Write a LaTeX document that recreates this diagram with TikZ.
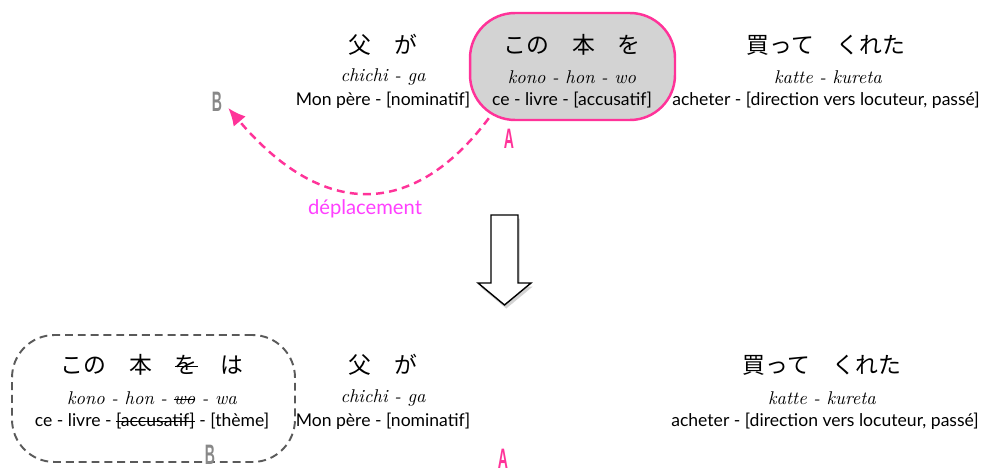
\documentclass[tikz,border=0pt]{standalone}
\usepackage{fontspec}
\usepackage{tikz}
\usepackage{xcolor}
\usetikzlibrary{shapes,arrows,arrows.meta,positioning,calc,shadows}
\newfontfamily\jpfont{Noto Sans CJK JP}
\newfontfamily\glossfont{Lato}
\newfontfamily\tagfont{Liberation Sans}
\definecolor{movepink}{RGB}{255,51,153}
\definecolor{boxgray}{RGB}{211,211,211}
\definecolor{labelmagenta}{RGB}{255,64,255}
\definecolor{tagcolor}{RGB}{136,136,136}
\definecolor{topiccolor}{RGB}{90,90,90}
\newsavebox\strkbox
\newcommand{\strk}[1]{\sbox\strkbox{#1}\rlap{\rule[0.5ex]{\wd\strkbox}{0.6pt}}\usebox\strkbox}

\begin{document}
\begin{tikzpicture}[
    x=0.02cm, y=-0.02cm,
    jp/.style={font=\jpfont\fontsize{13}{15}\selectfont, inner sep=0pt},
    roma/.style={font=\itshape\fontsize{10.5}{12}\selectfont, inner sep=0pt},
    gloss/.style={font=\glossfont\fontsize{10}{12}\selectfont, inner sep=0pt},
    movedbox/.style={rectangle, draw=movepink, fill=boxgray, line width=1.4pt, rounded corners=0.9cm, minimum width=4.1cm, minimum height=2.14cm},
    topicbox/.style={rectangle, draw=topiccolor, line width=1.1pt, dash pattern=on 4.5pt off 2.8pt, rounded corners=0.85cm, minimum width=5.66cm, minimum height=2.54cm},
    tagA/.style={font=\tagfont\bfseries\fontsize{16}{18}\selectfont, text=movepink, xscale=0.5, inner sep=0pt},
    tagB/.style={font=\tagfont\bfseries\fontsize{16}{18}\selectfont, text=tagcolor, xscale=0.5, inner sep=0pt},
    movearrow/.style={draw=movepink, line width=1.4pt, dash pattern=on 4.5pt off 3pt, -{Latex[length=10pt,width=9pt]}},
    movelabel/.style={font=\glossfont\fontsize{11.5}{13}\selectfont, text=labelmagenta},
    bigarrow/.style={draw, fill=white, line width=0.8pt, drop shadow={opacity=0.35, shadow xshift=1pt, shadow yshift=-2pt}}
]
\useasboundingbox (0,0) rectangle (982,473);

% Before: the moved phrase
\node[movedbox] (moved) at (572.5,66.5) {};

% Top row
\node[jp] (chichiA) at (383,45) {父　が};
\node[roma] (chichiAr) at (383,77) {chichi - ga};
\node[gloss] (chichiAg) at (383,100) {Mon père - [nominatif]};

\node[jp] (konoA) at (572,45) {この　本　を};
\node[roma] (konoAr) at (572,77) {kono - hon - wo};
\node[gloss] (konoAg) at (572,100) {ce - livre - [accusatif]};

\node[jp] (katteA) at (826,45) {買って　くれた};
\node[roma] (katteAr) at (828,77) {katte - kureta};
\node[gloss] (katteAg) at (826,100) {acheter - [direction vers locuteur, passé]};

\node[tagB] (Btop) at (217,102) {B};
\node[tagA] (Atop) at (509,139) {A};

% Movement
\draw[movearrow] ($(moved.south west)+(20,-3)$) .. controls +(-75,100) and +(95,112) .. ($(Btop.east)+(6,6)$);
\node[movelabel] (deplacement) at (365,209) {déplacement};

% Transformation arrow
\draw[bigarrow] (491,215) -- (518,215) -- (518,283) -- (531,283) -- (504.5,305)
    -- (478,283) -- (491,283) -- cycle;

% After: the topic phrase
\node[topicbox] (topic) at (153.5,398.5) {};

\node[jp] (konoB) at (152,365) {この　本　\strk{を}　は};
\node[roma] (konoBr) at (152,398) {kono - hon - \strk{wo} - wa};
\node[gloss] (konoBg) at (152,421) {ce - livre - \strk{[accusatif]} - [thème]};

\node[jp] (chichiB) at (383,365) {父　が};
\node[roma] (chichiBr) at (383,398) {chichi - ga};
\node[gloss] (chichiBg) at (383,421) {Mon père - [nominatif]};

\node[jp] (katteB) at (822,365) {買って　くれた};
\node[roma] (katteBr) at (822,398) {katte - kureta};
\node[gloss] (katteBg) at (825,421) {acheter - [direction vers locuteur, passé]};

\node[tagB] (Bbot) at (210,455) {B};
\node[tagA] (Abot) at (503,459) {A};

\end{tikzpicture}
\end{document}
